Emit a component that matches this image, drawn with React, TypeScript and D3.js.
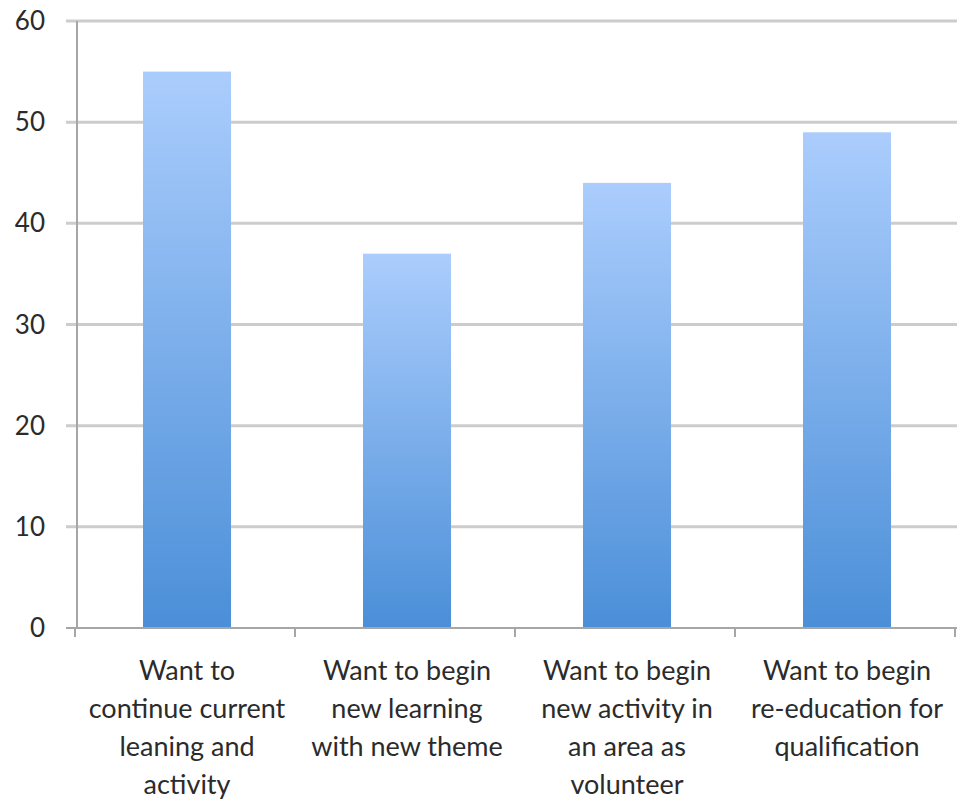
import * as d3 from "d3";
import { useEffect, useRef } from "react";

const categories = [
  ["Want to", "continue current", "leaning and", "activity"],
  ["Want to begin", "new learning", "with new theme"],
  ["Want to begin", "new activity in", "an area as", "volunteer"],
  ["Want to begin", "re-education for", "qualification"],
];
const values = [55, 37, 44, 49];
const yTicks = [0, 10, 20, 30, 40, 50, 60];

export default function App() {
  const ref = useRef<SVGSVGElement | null>(null);

  useEffect(() => {
    if (!ref.current) return;
    const svg = d3.select(ref.current);
    svg.selectAll("*").remove();

    const left = 77, right = 955, top = 21, bottom = 628;
    const font = "Lato, 'DejaVu Sans', sans-serif";

    const x = d3
      .scaleBand<number>()
      .domain(values.map((_, i) => i))
      .range([left - 2, right])
      .paddingInner(0.6)
      .paddingOuter(0.3);

    const y = d3.scaleLinear().domain([0, 60]).range([bottom, top]);

    const defs = svg.append("defs");
    const grad = defs
      .append("linearGradient")
      .attr("id", "barGrad")
      .attr("x1", 0).attr("y1", 0).attr("x2", 0).attr("y2", 1);
    grad.append("stop").attr("offset", "0%").attr("stop-color", "#abcdfd");
    grad.append("stop").attr("offset", "100%").attr("stop-color", "#4b8fd8");

    // gridlines
    svg
      .append("g")
      .selectAll("line")
      .data(yTicks)
      .enter()
      .append("line")
      .attr("x1", 66)
      .attr("x2", 957)
      .attr("y1", (d) => y(d))
      .attr("y2", (d) => y(d))
      .attr("stroke", (d) => (d === 0 ? "#a6a6a6" : "#cccccc"))
      .attr("stroke-width", (d) => (d === 0 ? 2 : 3));

    // y axis line
    svg
      .append("line")
      .attr("x1", left).attr("x2", left)
      .attr("y1", y(60)).attr("y2", bottom)
      .attr("stroke", "#a6a6a6")
      .attr("stroke-width", 2);

    // x ticks
    const edges = values.map((_, i) => x(i)! - x.step() * 0.3).concat([right]);
    svg
      .append("g")
      .selectAll("line")
      .data(edges)
      .enter()
      .append("line")
      .attr("x1", (d) => d).attr("x2", (d) => d)
      .attr("y1", bottom).attr("y2", bottom + 9)
      .attr("stroke", "#a6a6a6")
      .attr("stroke-width", 2);

    // bars
    svg
      .append("g")
      .selectAll("rect")
      .data(values)
      .enter()
      .append("rect")
      .attr("x", (_, i) => x(i)! + 2)
      .attr("y", (d) => y(d))
      .attr("width", x.bandwidth())
      .attr("height", (d) => bottom - 1 - y(d))
      .attr("fill", "url(#barGrad)");

    // y labels
    svg
      .append("g")
      .selectAll("text")
      .data(yTicks)
      .enter()
      .append("text")
      .attr("x", 45)
      .attr("y", (d) => y(d))
      .attr("dy", "0.35em")
      .attr("text-anchor", "end")
      .style("font-family", font)
      .style("font-size", "26px")
      .style("fill", "#2b2b2b")
      .text((d) => d);

    // x labels
    const lab = svg
      .append("g")
      .selectAll("text")
      .data(categories)
      .enter()
      .append("text")
      .attr("text-anchor", "middle")
      .style("font-family", font)
      .style("font-size", "27px")
      .style("fill", "#2b2b2b");
    lab
      .selectAll("tspan")
      .data((d, i) => d.map((t) => ({ t, i })))
      .enter()
      .append("tspan")
      .attr("x", (d) => x(d.i)! + 2 + x.bandwidth() / 2)
      .attr("y", (_, j) => 680 + j * 38)
      .text((d) => d.t);
  }, []);

  return (
    <div style={{ position: "absolute", left: 0, top: 0 }}>
      <svg ref={ref} width={957} height={800} style={{ display: "block", background: "#fff" }} />
    </div>
  );
}
